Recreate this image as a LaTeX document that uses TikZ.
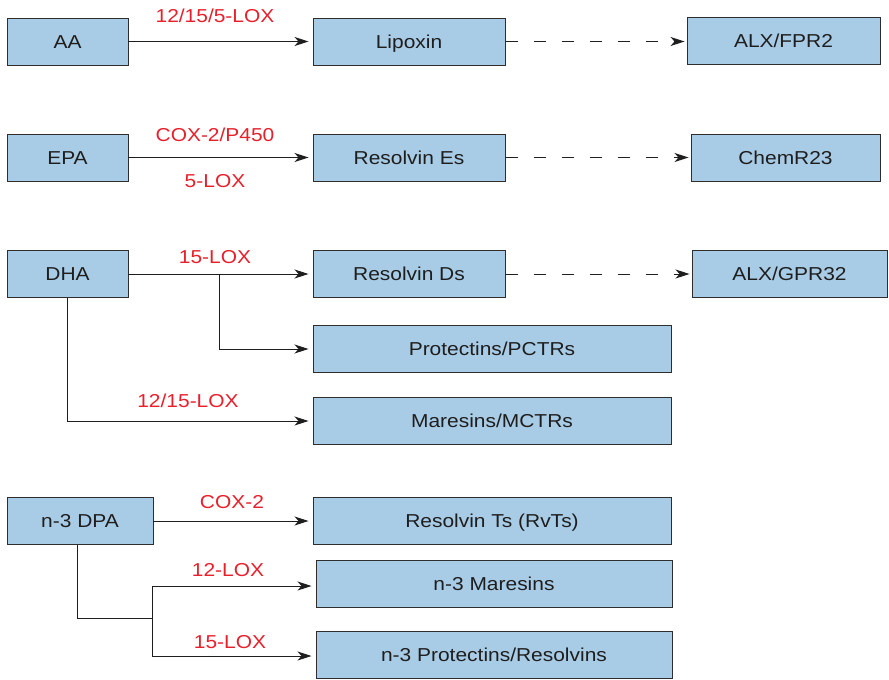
\documentclass[tikz,border=0pt]{standalone}
\usepackage{fontspec}
\setmainfont[FakeStretch=1.12]{Liberation Sans}
\usetikzlibrary{arrows.meta}
\definecolor{boxfill}{HTML}{A9CCE6}
\definecolor{boxline}{HTML}{2E2E2E}
\definecolor{enzyme}{HTML}{E8202C}
\definecolor{ink}{HTML}{1E1E1E}
\begin{document}
\begin{tikzpicture}[x=1pt,y=-1pt,
  every node/.style={font=\fontsize{18.7}{22}\selectfont, inner sep=0pt},
  box/.style={draw=boxline, line width=0.95pt, fill=boxfill, text=ink,
    minimum height=47pt, text height=13.4pt, text depth=0pt},
  enz/.style={text=enzyme, anchor=base},
  arr/.style={draw=ink, line width=1pt, -{Stealth[length=14pt,width=9pt,inset=4pt]}, shorten >=4pt},
  darr/.style={arr, dash pattern=on 12pt off 16pt, dash phase=-1pt, shorten >=2pt},
  link/.style={draw=ink, line width=1pt}]
\useasboundingbox (0,0) rectangle (889,680);

% precursors
\node[box, minimum width=121pt] (aa)  at (67.5,41.5) {AA};
\node[box, minimum width=121pt] (epa) at (67.5,157.5) {EPA};
\node[box, minimum width=121pt] (dha) at (67.5,274) {DHA};
\node[box, minimum width=146pt] (dpa) at (80,521) {n-3 DPA};

% mediators
\node[box, minimum width=192pt] (lip) at (409,41.5) {Lipoxin};
\node[box, minimum width=192pt] (rve) at (409,157.5) {Resolvin Es};
\node[box, minimum width=192pt] (rvd) at (409,274) {Resolvin Ds};
\node[box, minimum width=358pt] (pct) at (492,349) {Protectins/PCTRs};
\node[box, minimum width=358pt] (mar) at (492,421) {Maresins/MCTRs};
\node[box, minimum width=358pt] (rvt) at (492,521) {Resolvin Ts (RvTs)};
\node[box, minimum width=356pt] (nmar) at (494,584) {n-3 Maresins};
\node[box, minimum width=356pt] (npr) at (494,655) {n-3 Protectins/Resolvins};

% receptors
\node[box, minimum width=193pt] (fpr) at (783.5,41) {ALX/FPR2};
\node[box, minimum width=189pt] (chem) at (785.5,157.5) {ChemR23};
\node[box, minimum width=195pt] (gpr) at (789.5,273.5) {ALX/GPR32};

% enzyme labels
\node[enz] at (215,23) {12/15/5-LOX};
\node[enz] at (215,141) {COX-2/P450};
\node[enz] at (215,187) {5-LOX};
\node[enz] at (215,263) {15-LOX};
\node[enz] at (188,407) {12/15-LOX};
\node[enz] at (232,508) {COX-2};
\node[enz] at (228,576) {12-LOX};
\node[enz] at (230,648) {15-LOX};

% biosynthesis
\draw[arr] (aa) -- (lip);
\draw[arr] (epa) -- (rve);
\draw[arr] (dha) -- (rvd);
\coordinate (dhafork) at (219,274);
\draw[arr] (dhafork) |- (pct.west);
\draw[arr] (dha.south) |- (mar.west);
\draw[arr] (dpa) -- (rvt);
\coordinate (dpadrop) at (77,545);
\coordinate (dpafork) at (152,618);
\draw[link] (dpadrop) |- (dpafork);
\draw[arr] (dpafork) |- ([yshift=-2pt]nmar.west);
\draw[arr] (dpafork) |- ([yshift=-1pt]npr.west);

% receptor binding
\draw[darr] (lip.east) -- (fpr.west |- lip.east);
\draw[darr] (rve) -- (chem);
\draw[darr] (rvd.east) -- (gpr.west |- rvd.east);
\end{tikzpicture}
\end{document}
